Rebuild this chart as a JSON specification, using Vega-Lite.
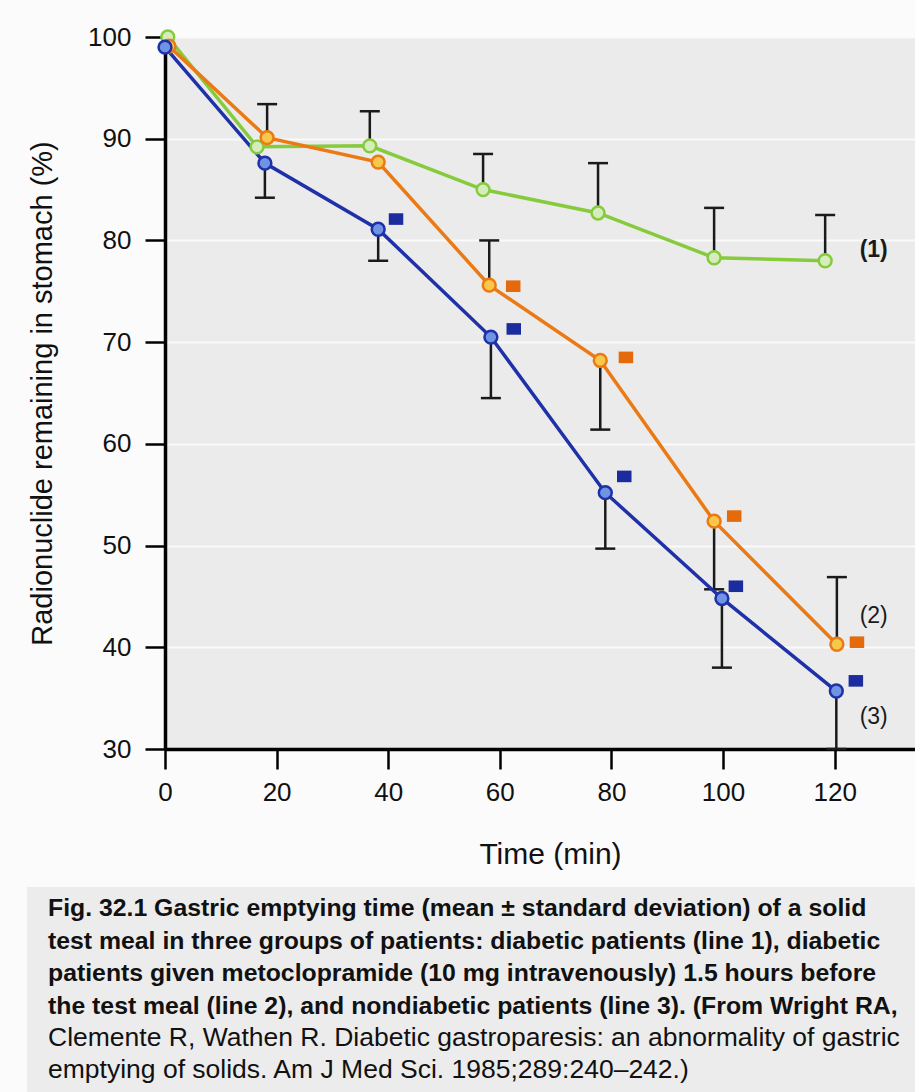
{
  "$schema": "https://vega.github.io/schema/vega-lite/v6.json",
  "background": "#fbfbfb",
  "padding": {"left": 27, "top": 24, "right": 0, "bottom": 0},
  "datasets": {
    "pts": [
      {"s": "1", "t": 0.5, "v": 100},
      {"s": "1", "t": 16.5, "v": 89.2},
      {"s": "1", "t": 36.7, "v": 89.3},
      {"s": "1", "t": 57, "v": 85.0},
      {"s": "1", "t": 77.6, "v": 82.7},
      {"s": "1", "t": 98.4, "v": 78.3},
      {"s": "1", "t": 118.3, "v": 78.0},
      {"s": "2", "t": 0.7, "v": 99.1},
      {"s": "2", "t": 18.3, "v": 90.1},
      {"s": "2", "t": 38.2, "v": 87.7},
      {"s": "2", "t": 58.1, "v": 75.6},
      {"s": "2", "t": 78, "v": 68.2},
      {"s": "2", "t": 98.4, "v": 52.4},
      {"s": "2", "t": 120.4, "v": 40.3},
      {"s": "3", "t": 0, "v": 99.0},
      {"s": "3", "t": 17.9, "v": 87.6},
      {"s": "3", "t": 38.2, "v": 81.1},
      {"s": "3", "t": 58.4, "v": 70.5},
      {"s": "3", "t": 78.9, "v": 55.2},
      {"s": "3", "t": 99.8, "v": 44.8},
      {"s": "3", "t": 120.3, "v": 35.7}
    ],
    "err": [
      {"s": "1", "t": 36.7, "v": 89.3, "e": 92.7},
      {"s": "1", "t": 57, "v": 85.0, "e": 88.5},
      {"s": "1", "t": 77.6, "v": 82.7, "e": 87.6},
      {"s": "1", "t": 98.4, "v": 78.3, "e": 83.2},
      {"s": "1", "t": 118.3, "v": 78.0, "e": 82.5},
      {"s": "2", "t": 18.3, "v": 90.1, "e": 93.4},
      {"s": "2", "t": 58.1, "v": 75.6, "e": 80.0},
      {"s": "2", "t": 78, "v": 68.2, "e": 61.4},
      {"s": "2", "t": 98.4, "v": 52.4, "e": 45.7},
      {"s": "2", "t": 120.4, "v": 40.3, "e": 46.9},
      {"s": "3", "t": 17.9, "v": 87.6, "e": 84.2},
      {"s": "3", "t": 38.2, "v": 81.1, "e": 78.0},
      {"s": "3", "t": 58.4, "v": 70.5, "e": 64.5},
      {"s": "3", "t": 78.9, "v": 55.2, "e": 49.7},
      {"s": "3", "t": 99.8, "v": 44.8, "e": 38.0},
      {"s": "3", "t": 120.3, "v": 35.7, "e": 30}
    ],
    "sig": [
      {"s": "3", "t": 41.4, "v": 82.1},
      {"s": "3", "t": 62.5, "v": 71.3},
      {"s": "3", "t": 82.3, "v": 56.8},
      {"s": "3", "t": 102.3, "v": 46.0},
      {"s": "3", "t": 123.8, "v": 36.7},
      {"s": "2", "t": 62.4, "v": 75.5},
      {"s": "2", "t": 82.6, "v": 68.5},
      {"s": "2", "t": 102, "v": 52.9},
      {"s": "2", "t": 124, "v": 40.5}
    ],
    "labels": [
      {"lab": "(1)", "t": 127, "v": 79.1, "w": "bold"},
      {"lab": "(2)", "t": 127, "v": 43.1, "w": "normal"},
      {"lab": "(3)", "t": 127, "v": 33.1, "w": "normal"}
    ]
  },
  "vconcat": [
    {
      "spacing": 0,
      "hconcat": [
        {
          "width": 1,
          "height": 712,
          "view": {"fill": null, "stroke": null},
          "data": {"values": [{"k": 1}]},
          "mark": {"type": "text", "text": ""},
          "encoding": {}
        },
        {
          "width": 750,
          "height": 712,
          "view": {"fill": "#ebebeb", "stroke": null},
          "layer": [
            {
              "data": {"name": "err"},
              "mark": {"type": "rule", "color": "#1a1a1a", "strokeWidth": 2.5},
              "encoding": {
                "x": {"field": "t", "type": "quantitative", "scale": {"domain": [0, 134.4], "nice": false, "zero": false},
                      "axis": {"values": [0, 20, 40, 60, 80, 100, 120], "title": "Time (min)", "grid": false, "titleX": 385}},
                "y": {"field": "v", "type": "quantitative", "scale": {"domain": [30, 100], "nice": false, "zero": false},
                      "axis": {"values": [30, 40, 50, 60, 70, 80, 90, 100], "title": "Radionuclide remaining in stomach (%)", "grid": true}},
                "y2": {"field": "e"}
              }
            },
            {
              "data": {"name": "err"},
              "mark": {"type": "tick", "orient": "horizontal", "color": "#1a1a1a", "size": 20, "thickness": 2.5, "opacity": 1},
              "encoding": {
                "x": {"field": "t", "type": "quantitative", "scale": {"domain": [0, 134.4], "nice": false, "zero": false}},
                "y": {"field": "e", "type": "quantitative", "scale": {"domain": [30, 100], "nice": false, "zero": false}}
              }
            },
            {
              "data": {"name": "pts"},
              "mark": {"type": "line", "strokeWidth": 3.5},
              "encoding": {
                "x": {"field": "t", "type": "quantitative", "scale": {"domain": [0, 134.4], "nice": false, "zero": false}},
                "y": {"field": "v", "type": "quantitative", "scale": {"domain": [30, 100], "nice": false, "zero": false}},
                "stroke": {"field": "s", "type": "nominal", "scale": {"domain": ["1", "2", "3"], "range": ["#86cb3c", "#eb7a14", "#1e31a8"]}, "legend": null},
                "order": {"field": "t", "type": "quantitative"}
              }
            },
            {
              "data": {"name": "pts"},
              "mark": {"type": "point", "shape": "circle", "filled": false, "size": 165, "strokeWidth": 2.5, "opacity": 1, "fillOpacity": 1},
              "encoding": {
                "x": {"field": "t", "type": "quantitative", "scale": {"domain": [0, 134.4], "nice": false, "zero": false}},
                "y": {"field": "v", "type": "quantitative", "scale": {"domain": [30, 100], "nice": false, "zero": false}},
                "stroke": {"field": "s", "type": "nominal", "scale": {"domain": ["1", "2", "3"], "range": ["#86cb3c", "#eb7a14", "#1e31a8"]}, "legend": null},
                "fill": {"field": "s", "type": "nominal", "scale": {"domain": ["1", "2", "3"], "range": ["#d5ecbc", "#f8c84c", "#7094e4"]}, "legend": null}
              }
            },
            {
              "data": {"name": "sig"},
              "mark": {"type": "point", "shape": "M-1,-0.8L1,-0.8L1,0.8L-1,0.8Z", "filled": true, "size": 210, "opacity": 1},
              "encoding": {
                "x": {"field": "t", "type": "quantitative", "scale": {"domain": [0, 134.4], "nice": false, "zero": false}},
                "y": {"field": "v", "type": "quantitative", "scale": {"domain": [30, 100], "nice": false, "zero": false}},
                "color": {"field": "s", "type": "nominal", "scale": {"domain": ["2", "3"], "range": ["#e46a0c", "#1b2c9e"]}, "legend": null}
              }
            },
            {
              "data": {"name": "labels"},
              "transform": [{"filter": "datum.w == 'bold'"}],
              "mark": {"type": "text", "fontSize": 23, "fontWeight": "bold", "color": "#1a1a1a", "align": "center", "baseline": "middle"},
              "encoding": {
                "x": {"field": "t", "type": "quantitative", "scale": {"domain": [0, 134.4], "nice": false, "zero": false}},
                "y": {"field": "v", "type": "quantitative", "scale": {"domain": [30, 100], "nice": false, "zero": false}},
                "text": {"field": "lab"}
              }
            },
            {
              "data": {"name": "labels"},
              "transform": [{"filter": "datum.w == 'normal'"}],
              "mark": {"type": "text", "fontSize": 23, "fontWeight": "normal", "color": "#1a1a1a", "align": "center", "baseline": "middle"},
              "encoding": {
                "x": {"field": "t", "type": "quantitative", "scale": {"domain": [0, 134.4], "nice": false, "zero": false}},
                "y": {"field": "v", "type": "quantitative", "scale": {"domain": [30, 100], "nice": false, "zero": false}},
                "text": {"field": "lab"}
              }
            }
          ]
        }
      ]
    },
    {
      "width": 888,
      "height": 206,
      "view": {"fill": "#ececec", "stroke": null},
      "data": {"values": [{"k": 1}]},
      "mark": {"type": "text", "text": ""},
      "encoding": {},
      "title": {
        "text": [
          "Fig. 32.1  Gastric emptying time (mean ± standard deviation) of a solid",
          "test meal in three groups of patients: diabetic patients (line 1), diabetic",
          "patients given metoclopramide (10 mg intravenously) 1.5 hours before",
          "the test meal (line 2), and nondiabetic patients (line 3). (From Wright RA,"
        ],
        "subtitle": [
          "Clemente R, Wathen R. Diabetic gastroparesis: an abnormality of gastric",
          "emptying of solids. Am J Med Sci. 1985;289:240–242.)"
        ],
        "orient": "bottom",
        "anchor": "start",
        "frame": "group",
        "offset": -197,
        "dx": 21,
        "font": "Liberation Sans",
        "fontSize": 24.8,
        "fontWeight": "bold",
        "color": "#111111",
        "lineHeight": 32.5,
        "subtitleFont": "Liberation Sans",
        "subtitleFontSize": 26.5,
        "subtitleFontWeight": "normal",
        "subtitleColor": "#111111",
        "subtitleLineHeight": 32.5,
        "subtitlePadding": 6.5
      }
    }
  ],
  "spacing": 18,
  "config": {
    "font": "Liberation Sans",
    "axisX": {
      "domainColor": "#000000", "domainWidth": 3.5, "tickColor": "#000000", "tickWidth": 2.5, "tickSize": 20,
      "labelFontSize": 26, "labelPadding": 10, "labelColor": "#111111", "labelFlush": false,
      "titleFontSize": 30, "titleFontWeight": "normal", "titlePadding": 34, "titleColor": "#111111"
    },
    "axisY": {
      "domainColor": "#000000", "domainWidth": 3.5, "tickColor": "#000000", "tickWidth": 2.5, "tickSize": 20,
      "labelFontSize": 26, "labelPadding": 14, "labelColor": "#111111", "labelFlush": false,
      "titleFontSize": 29, "titleFontWeight": "normal", "titlePadding": 30, "titleColor": "#111111",
      "gridColor": "#fafafa", "gridWidth": 2
    }
  }
}
